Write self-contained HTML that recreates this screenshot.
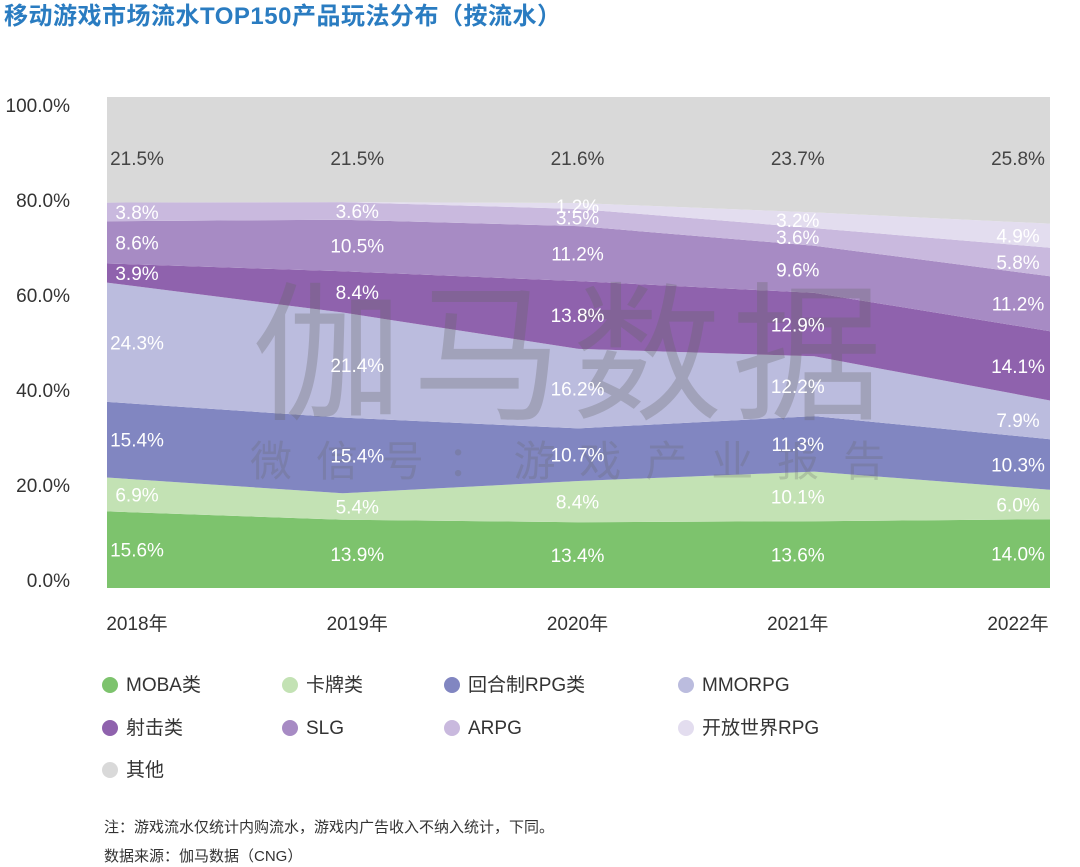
<!DOCTYPE html>
<html><head><meta charset="utf-8">
<style>
body{margin:0;background:#fff;width:1080px;height:867px;overflow:hidden;font-family:"Liberation Sans","Noto Sans CJK SC",sans-serif;}
#title{position:absolute;left:4px;top:0px;font-size:24px;line-height:34px;font-weight:bold;color:#2a7cc1;letter-spacing:0.5px;}
.leg{position:absolute;font-size:19px;color:#333;line-height:24px;height:24px;white-space:nowrap;}
.leg i{display:inline-block;width:16px;height:16px;border-radius:50%;vertical-align:-2px;margin-right:8px;}
.note{position:absolute;left:104px;font-size:15px;color:#333;line-height:20px;}
</style></head><body>
<div id="title">移动游戏市场流水TOP150产品玩法分布（按流水）</div>
<svg id="chart" width="1080" height="867" style="position:absolute;left:0;top:0"></svg>
<div id="legend"></div>
<div class="note" style="top:818px">注：游戏流水仅统计内购流水，游戏内广告收入不纳入统计，下同。</div>
<div class="note" style="top:847px">数据来源：伽马数据（CNG）</div>
<script>
const years=["2018年","2019年","2020年","2021年","2022年"];
const seriesNames=["MOBA类","卡牌类","回合制RPG类","MMORPG","射击类","SLG","ARPG","开放世界RPG","其他"];
const moba=[15.6,13.9,13.4,13.6,14.0];
const card=[6.9,5.4,8.4,10.1,6.0];
const turnRpg=[15.4,15.4,10.7,11.3,10.3];
const mmorpg=[24.3,21.4,16.2,12.2,7.9];
const shooter=[3.9,8.4,13.8,12.9,14.1];
const slg=[8.6,10.5,11.2,9.6,11.2];
const arpg=[3.8,3.6,3.5,3.6,5.8];
const openWorld=[0,0,1.2,3.2,4.9];
const other=[21.5,21.5,21.6,23.7,25.8];
const yTicks=[0,20,40,60,80,100];
const series=[moba,card,turnRpg,mmorpg,shooter,slg,arpg,openWorld,other];
const colors=["#7dc36d","#c3e2b4","#8186c1","#bbbcde","#8f62ad","#a78bc4","#c9b9de","#e3ddef","#d9d9d9"];
const keys=["moba","card","turn-rpg","mmorpg","shooter","slg","arpg","open-world-rpg","other"];
const NS="http://www.w3.org/2000/svg";
const svg=document.getElementById('chart');
const L=107,R=1050,T=97,B=588;
const xArea=i=>L+i*(R-L)/(years.length-1);
const xLab=i=>137+i*220.25;
const y=v=>B-v/100*(B-T);
function mk(tag,attrs){const e=document.createElementNS(NS,tag);for(const k in attrs)e.setAttribute(k,attrs[k]);svg.appendChild(e);return e;}
const cum=[];let base=years.map(()=>0);
series.forEach((s,k)=>{const top=base.map((b,i)=>b+s[i]);cum.push([base,top]);base=top;});
cum.forEach(([lo,hi],k)=>{
  let top=hi.map(v=>k===series.length-1?100:v);
  let pts=top.map((v,i)=>xArea(i)+','+y(v)).concat(lo.map((v,i)=>xArea(i)+','+y(v)).reverse());
  const p=mk('polygon',{points:pts.join(' '),fill:colors[k]});
  
  
});
const w1=mk('text',{x:572,y:408,'font-size':150,fill:'#666','fill-opacity':0.3,'text-anchor':'middle','letter-spacing':10,'font-family':'Noto Sans CJK SC, sans-serif'});
w1.textContent='伽马数据';


const w2=mk('text',{x:250,y:476,'font-size':42,fill:'#666','fill-opacity':0.25,'textLength':635,'lengthAdjust':'spacing','font-family':'Noto Sans CJK SC, sans-serif'});
w2.textContent='微信号：游戏产业报告';


cum.forEach(([lo,hi],k)=>{
  series[k].forEach((v,i)=>{
    if(v===0)return;
    let cy=k===series.length-1?158:(y(lo[i])+y(hi[i]))/2;
    const t=mk('text',{x:xLab(i),y:cy+7,'font-size':19,fill:k===8?'#444':'#fff','text-anchor':'middle'});
    t.textContent=v.toFixed(1)+'%';
    
    
  });
});
yTicks.forEach(v=>{
  const t=mk('text',{x:70,y:580-v*4.75+7,'font-size':19,fill:'#333','text-anchor':'end'});
  t.textContent=v.toFixed(1)+'%';
  
  
});
years.forEach((yr,i)=>{
  const t=mk('text',{x:xLab(i),y:630,'font-size':19,fill:'#333','text-anchor':'middle','font-family':'Liberation Sans, Noto Sans CJK SC, sans-serif'});
  t.textContent=yr;
  
  
});
const lg=document.getElementById('legend');
const lx=[102,282,444,678],ly=[674,717,759];
seriesNames.forEach((n,k)=>{
  const d=document.createElement('div');
  d.className='leg';
  d.style.left=lx[k%4]+'px';d.style.top=ly[Math.floor(k/4)]+'px';
  d.innerHTML='<i style="background:'+colors[k]+'"></i>'+n;
  
  
  lg.appendChild(d);
});
</script>
</body></html>
